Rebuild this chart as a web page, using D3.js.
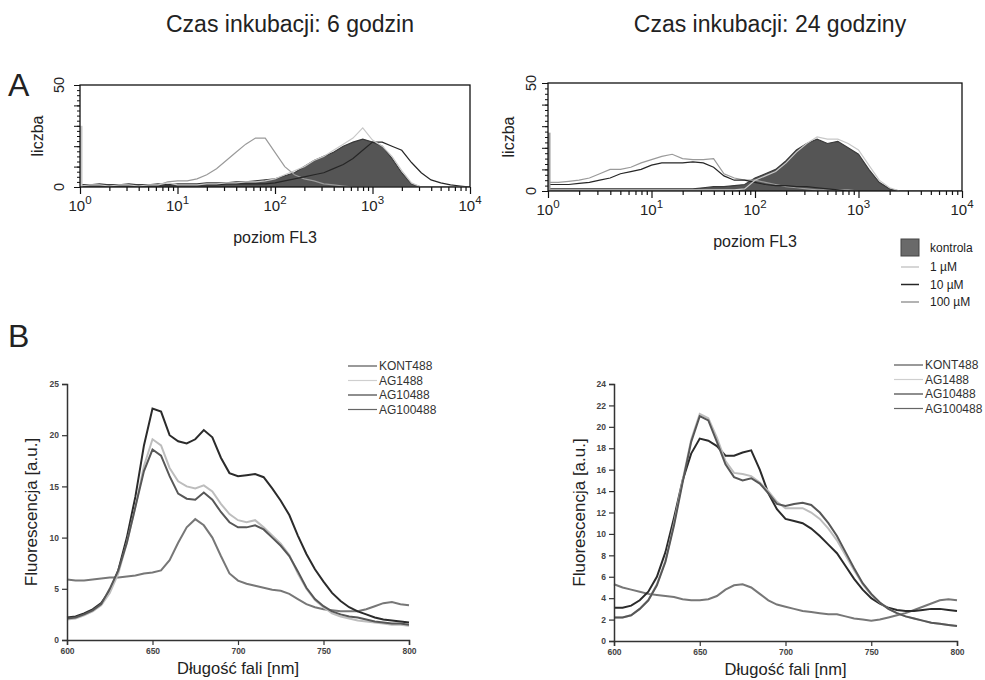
<!DOCTYPE html>
<html><head><meta charset="utf-8">
<script src="https://cdn.jsdelivr.net/npm/d3@7"></script>
<style>body{margin:0;background:#fff} svg{font-family:"Liberation Sans",Arial,sans-serif}</style>
</head><body><svg id="c" width="985" height="680"></svg>
<script>
// ---------- Panel A data (flow cytometry histograms, FL3 channel, log10 bins) ----------
const binExp = [0,0.1,0.2,0.3,0.4,0.5,0.6,0.7,0.8,0.9,1.0,1.1,1.2,1.3,1.4,1.5,1.6,1.7,1.8,1.9,2.0,2.1,2.2,2.3,2.4,2.5,2.6,2.7,2.8,2.9,3.0,3.1,3.2,3.3,3.4,3.5,3.6,3.7,3.8,3.9,4.0];
const histSeries = ["kontrola","1 µM","10 µM","100 µM"];
// 6 h
const ctrl6  = [1,1,1.5,1,1,1.5,1,1,1.5,1,1.5,1.5,1.5,2,2,2,2.5,2.5,3,3.5,4,5.5,7,10,13,15,17,20,22,23.5,22,20,14,7,1.5,0,0,0,0,0,0];
const um1_6  = [0.5,1,1,0.5,1,1,0.5,1,1,2,1,1,1,1.5,1.5,2,2,2.5,2.5,3,4,6,8,10,13,15,18,21,24,29,23,20,15,8,2,0,0,0,0,0,0];
const um10_6 = [1,1,1,1,1,1,1,1,1,1,1,1,1,1,1,1.5,1.5,1.5,1.5,1.5,2,3,4,5,6,7,9,11,14,18,22,22,20,18,12,7,3.5,2,1,0.5,0];
const um100_6= [1,1,1,1,1,1,1,1,1,2.5,3,3,4,6,9,13,17,21,24,24,17,10,6,4,3,1.5,1,0.5,0,0,0,0,0,0,0,0,0,0,0,0,0];
const spike6 = [0,30,0,0];   // off-scale counts in the first channel, per series
// 24 h
const ctrl24  = [1,1,1,1,1,1,1,1,1,1,1,1,1,1,1,1.5,2,2,2.5,3,6,8,10,14,19,22,24,22,23,20,17,10,4,1,0,0,0,0,0,0,0];
const um1_24  = [0.5,0.5,0.5,0.5,0.5,0.5,0.5,0.5,0.5,0.5,0.5,0.5,0.5,0.5,0.5,0.5,0.5,0.5,0.5,1,5,7,9,13,18,22,25,24,24,22,19,12,5,1.5,0,0,0,0,0,0,0];
const um10_24 = [3,3,3,3.5,4,5,6,8,9,10,12,13,13,13,13.5,13,11,7,5,5,4,3,2.5,2.5,2,2,1.5,1,0.5,0,0,0,0,0,0,0,0,0,0,0,0];
const um100_24= [4,4,4.5,5,6,8,10,10,11,13,14.5,16,17,15,14.5,14.5,15,8,6,5,5,4,3,2,1.5,1,0.5,0.5,0.5,0.5,0,0,0,0,0,0,0,0,0,0,0];
const spike24 = [0,0,0,27];
const histTickLabelsExp = [0,1,2,3,4];

// ---------- Panel B data (fluorescence spectra) ----------
const wavelength = [600,605,610,615,620,625,630,635,640,645,650,655,660,665,670,675,680,685,690,695,700,705,710,715,720,725,730,735,740,745,750,755,760,765,770,775,780,785,790,795,800];
const specSeries = ["KONT488","AG1488","AG10488","AG100488"];
const kontL  = [2.2,2.3,2.6,3.0,3.6,4.8,6.8,10,14,19,22.6,22.3,20,19.4,19.2,19.6,20.5,19.8,17.8,16.3,16,16.1,16.2,15.9,14.8,13.6,12.2,10.2,8.4,6.9,5.7,4.6,3.8,3.2,2.8,2.5,2.2,2.0,1.9,1.8,1.7];
const ag1L   = [2.0,2.1,2.4,2.8,3.4,4.6,6.5,9.5,13,17,19.6,19,16.8,15.5,15,14.8,15.1,14.5,13.3,12.3,11.7,11.5,11.7,11,10.2,9.4,8.3,6.5,5.0,3.9,3.2,2.6,2.3,2.1,1.9,1.8,1.7,1.6,1.5,1.5,1.4];
const ag10L  = [2.1,2.2,2.5,2.9,3.5,5,6.8,9.5,13,16.5,18.6,18,16,14.3,13.8,13.7,14.4,13.7,12.5,11.5,11,11,11.2,10.8,10,9.2,8.2,6.7,5.1,4.0,3.3,2.8,2.5,2.3,2.2,2.0,1.8,1.7,1.6,1.6,1.5];
const ag100L = [5.9,5.8,5.8,5.9,6.0,6.1,6.1,6.2,6.3,6.5,6.6,6.8,7.8,9.5,11,11.8,11.2,10,8.2,6.5,5.8,5.5,5.3,5.1,4.9,4.8,4.5,4.0,3.5,3.2,3.0,2.9,2.8,2.8,2.8,3.0,3.3,3.6,3.7,3.5,3.4];
const kontR  = [3.1,3.1,3.3,3.8,4.6,6,8.3,11.5,15,17.5,18.9,18.7,18.2,17.3,17.3,17.6,17.8,16,13.8,12.3,11.4,11.2,11,10.5,9.8,9,8.2,7,5.8,4.8,4,3.5,3.1,2.9,2.8,2.8,2.9,3.0,3.0,2.9,2.8];
const ag1R   = [2.2,2.2,2.4,3.0,3.8,5.3,7.5,11,15,18.8,21.2,20.8,19,16.8,15.7,15.6,15.4,14.8,14,13,12.4,12.4,12.4,12,11.4,10.5,9.4,8,6.6,5.3,4.3,3.6,3.0,2.6,2.3,2.1,1.9,1.7,1.6,1.5,1.4];
const ag10R  = [2.2,2.2,2.4,3.0,3.8,5.2,7.4,10.8,14.8,18.6,21,20.6,18.6,16.5,15.3,15,15.2,14.7,13.8,12.8,12.6,12.8,12.9,12.7,12,11,9.8,8.3,6.8,5.4,4.4,3.6,3.0,2.6,2.3,2.1,1.9,1.7,1.6,1.5,1.4];
const ag100R = [5.3,5.0,4.8,4.6,4.4,4.3,4.2,4.1,3.9,3.8,3.8,3.9,4.2,4.8,5.2,5.3,5.0,4.4,3.8,3.4,3.2,3.0,2.8,2.7,2.6,2.5,2.5,2.3,2.1,2.0,1.9,2.0,2.2,2.4,2.6,2.9,3.2,3.5,3.8,3.9,3.8];

const titles = ["Czas inkubacji: 6 godzin","Czas inkubacji: 24 godziny"];

// ---------- styles ----------
const histColors = {fill:"#555", line:["#3a3a3a","#c8c8c8","#262626","#9a9a9a"]};
const specColors = ["#2b2b2b","#bdbdbd","#575757","#777"];
const specLegendColors = ["#555","#cfcfcf","#444","#666"];

const svg = d3.select("#c");

// titles & panel letters
svg.append("text").attr("x",290).attr("y",32).attr("text-anchor","middle").attr("font-size",23).attr("fill","#222").text(titles[0]);
svg.append("text").attr("x",770).attr("y",32).attr("text-anchor","middle").attr("font-size",23).attr("fill","#222").text(titles[1]);
svg.append("text").attr("x",8).attr("y",96).attr("font-size",32).attr("fill","#222").text("A");
svg.append("text").attr("x",8).attr("y",347).attr("font-size",32).attr("fill","#222").text("B");

// ---------- histogram panel ----------
function histPanel(opt){
  const x = d3.scaleLog().domain([1,1e4]).range([opt.x0,opt.x1]);
  const y = d3.scaleLinear().domain([0,50]).range([opt.y0,opt.y1]);
  const g = svg.append("g");
  const cid = "clip"+opt.id;
  svg.append("clipPath").attr("id",cid).append("rect").attr("x",opt.x0).attr("y",opt.y1).attr("width",opt.x1-opt.x0).attr("height",opt.y0-opt.y1);
  const pg = g.append("g").attr("clip-path",`url(#${cid})`);
  const pts = arr => arr.map((v,i)=>[Math.pow(10,binExp[i]),v]);
  const area = d3.area().x(d=>x(d[0])).y0(y(0)).y1(d=>y(d[1]));
  const line = d3.line().x(d=>x(d[0])).y(d=>y(d[1]));
  pg.append("path").attr("d",area(pts(opt.series[0]))).attr("fill",histColors.fill);
  pg.append("path").attr("d",line(pts(opt.series[0]))).attr("fill","none").attr("stroke",histColors.line[0]).attr("stroke-width",1.2);
  [3,2,1].forEach(k=>{
    pg.append("path").attr("d",line(pts(opt.series[k]))).attr("fill","none").attr("stroke",histColors.line[k]).attr("stroke-width",1.2);
  });
  opt.spike.forEach((v,k)=>{ if(v>0) pg.append("rect").attr("x",x(1)).attr("width",2.5).attr("y",y(v)).attr("height",y(0)-y(v)).attr("fill",histColors.line[k]);});
  // frame
  g.append("rect").attr("x",opt.x0).attr("y",opt.y1).attr("width",opt.x1-opt.x0).attr("height",opt.y0-opt.y1).attr("fill","none").attr("stroke","#111").attr("stroke-width",1.3);
  // x ticks
  const minor=[]; for(let e=0;e<4;e++) for(let m=2;m<=9;m++) minor.push(m*Math.pow(10,e));
  const major = histTickLabelsExp.map(e=>Math.pow(10,e));
  const xa = g.append("g").attr("transform",`translate(0,${opt.y0})`);
  xa.call(d3.axisBottom(x).tickValues(minor).tickSize(4).tickFormat(""));
  xa.call(g2=>g2.select(".domain").remove());
  const xb = g.append("g").attr("transform",`translate(0,${opt.y0})`);
  xb.call(d3.axisBottom(x).tickValues(major).tickSize(7).tickFormat(""));
  xb.selectAll(".domain").remove();
  g.selectAll(".tick line").attr("stroke","#111").attr("stroke-width",1.2);
  histTickLabelsExp.forEach(e=>{
    const t = g.append("text").attr("x",x(Math.pow(10,e))).attr("y",opt.y0+24).attr("text-anchor","middle").attr("font-size",15).attr("fill","#222");
    t.append("tspan").text("10");
    t.append("tspan").attr("dy",-7).attr("font-size",11.5).text(e);
  });
  // y ticks
  const yminor=[]; for(let v=0; v<=50; v+=2.5) yminor.push(v);
  g.append("g").attr("transform",`translate(${opt.x0},0)`).call(d3.axisLeft(y).tickValues(yminor).tickSize(3).tickFormat("")).call(s=>s.select(".domain").remove()).selectAll("line").attr("stroke","#111");
  g.append("g").attr("transform",`translate(${opt.x0},0)`).call(d3.axisLeft(y).tickValues([0,10,20,30,40,50]).tickSize(6).tickFormat("")).call(s=>s.select(".domain").remove()).selectAll("line").attr("stroke","#111");
  [0,50].forEach(v=>{
    g.append("text").attr("transform",`translate(${opt.x0-opt.ylo},${y(v)}) rotate(-90)`).attr("text-anchor","middle").attr("font-size",14.5).attr("fill","#222").text(v);
  });
  g.append("text").attr("transform",`translate(${opt.x0-opt.yto},${(opt.y0+opt.y1)/2}) rotate(-90)`).attr("text-anchor","middle").attr("font-size",16).attr("fill","#222").text("liczba");
  g.append("text").attr("x",(opt.x0+opt.x1)/2).attr("y",opt.y0+56).attr("text-anchor","middle").attr("font-size",16).attr("fill","#222").text("poziom FL3");
}
histPanel({id:"a6",x0:80,x1:470,y0:187,y1:85,series:[ctrl6,um1_6,um10_6,um100_6],spike:spike6,ylo:16,yto:37});
histPanel({id:"a24",x0:548,x1:962,y0:191,y1:83,series:[ctrl24,um1_24,um10_24,um100_24],spike:spike24,ylo:12,yto:34});

// legend A
const la = svg.append("g").attr("font-size",12).attr("fill","#222");
la.append("rect").attr("x",901).attr("y",239).attr("width",18).attr("height",17).attr("fill","#6a6a6a").attr("stroke","#444");
la.append("text").attr("x",930).attr("y",252).text(histSeries[0]);
[1,2,3].forEach((k,i)=>{
  const yy = 267+i*17.5;
  la.append("line").attr("x1",901).attr("x2",919).attr("y1",yy).attr("y2",yy).attr("stroke",histColors.line[k]).attr("stroke-width",1.5);
  la.append("text").attr("x",930).attr("y",yy+4).text(histSeries[k]);
});

// ---------- spectra panel ----------
function specPanel(opt){
  const x = d3.scaleLinear().domain([600,800]).range([opt.x0,opt.x1]);
  const y = d3.scaleLinear().domain([0,opt.ymax]).range([opt.y0,opt.y1]);
  const g = svg.append("g");
  const line = d3.line().x((d,i)=>x(wavelength[i])).y(d=>y(d));
  [3,0,1,2].forEach(k=>{
    g.append("path").attr("d",line(opt.series[k])).attr("fill","none").attr("stroke",specColors[k]).attr("stroke-width",2);
  });
  // axes
  const xa = g.append("g").attr("transform",`translate(0,${opt.y0})`);
  xa.call(d3.axisBottom(x).tickValues([625,675,725,775]).tickSize(3).tickFormat(""));
  xa.call(d3.axisBottom(x).tickValues([600,650,700,750,800]).tickSize(5).tickFormat(d3.format("d")));
  const ya = g.append("g").attr("transform",`translate(${opt.x0},0)`);
  ya.call(d3.axisLeft(y).tickValues(opt.yminor).tickSize(3).tickFormat(""));
  ya.call(d3.axisLeft(y).tickValues(opt.ymajor).tickSize(5).tickFormat(d3.format("d")));
  g.selectAll(".domain").attr("stroke","#333").attr("stroke-width",1.5);
  g.selectAll(".tick line").attr("stroke","#333").attr("stroke-width",1.2);
  g.selectAll(".tick text").attr("font-size",8.5).attr("font-weight","bold").attr("fill","#444");
  g.append("text").attr("x",(opt.x0+opt.x1)/2).attr("y",opt.y0+34).attr("text-anchor","middle").attr("font-size",16.5).attr("fill","#222").text("Długość fali [nm]");
  g.append("text").attr("transform",`translate(${opt.ytx},${(opt.y0+opt.y1)/2}) rotate(-90)`).attr("text-anchor","middle").attr("font-size",17).attr("fill","#222").text("Fluorescencja [a.u.]");
  // legend
  const lg = g.append("g").attr("font-size",12).attr("fill","#333");
  specSeries.forEach((s,k)=>{
    const yy = opt.ly + k*14.5;
    lg.append("line").attr("x1",opt.lx).attr("x2",opt.lx+29).attr("y1",yy).attr("y2",yy).attr("stroke",specLegendColors[k]).attr("stroke-width",1.2);
    lg.append("text").attr("x",opt.lx+31).attr("y",yy+4).text(s);
  });
}
specPanel({x0:67,x1:409,y0:640,y1:384,ymax:25,ymajor:[0,5,10,15,20,25],yminor:[2.5,7.5,12.5,17.5,22.5],series:[kontL,ag1L,ag10L,ag100L],ytx:37,lx:348,ly:366});
specPanel({x0:614,x1:957,y0:641,y1:384,ymax:24,ymajor:[0,2,4,6,8,10,12,14,16,18,20,22,24],yminor:[1,3,5,7,9,11,13,15,17,19,21,23],series:[kontR,ag1R,ag10R,ag100R],ytx:585,lx:894,ly:365});
</script></body></html>
